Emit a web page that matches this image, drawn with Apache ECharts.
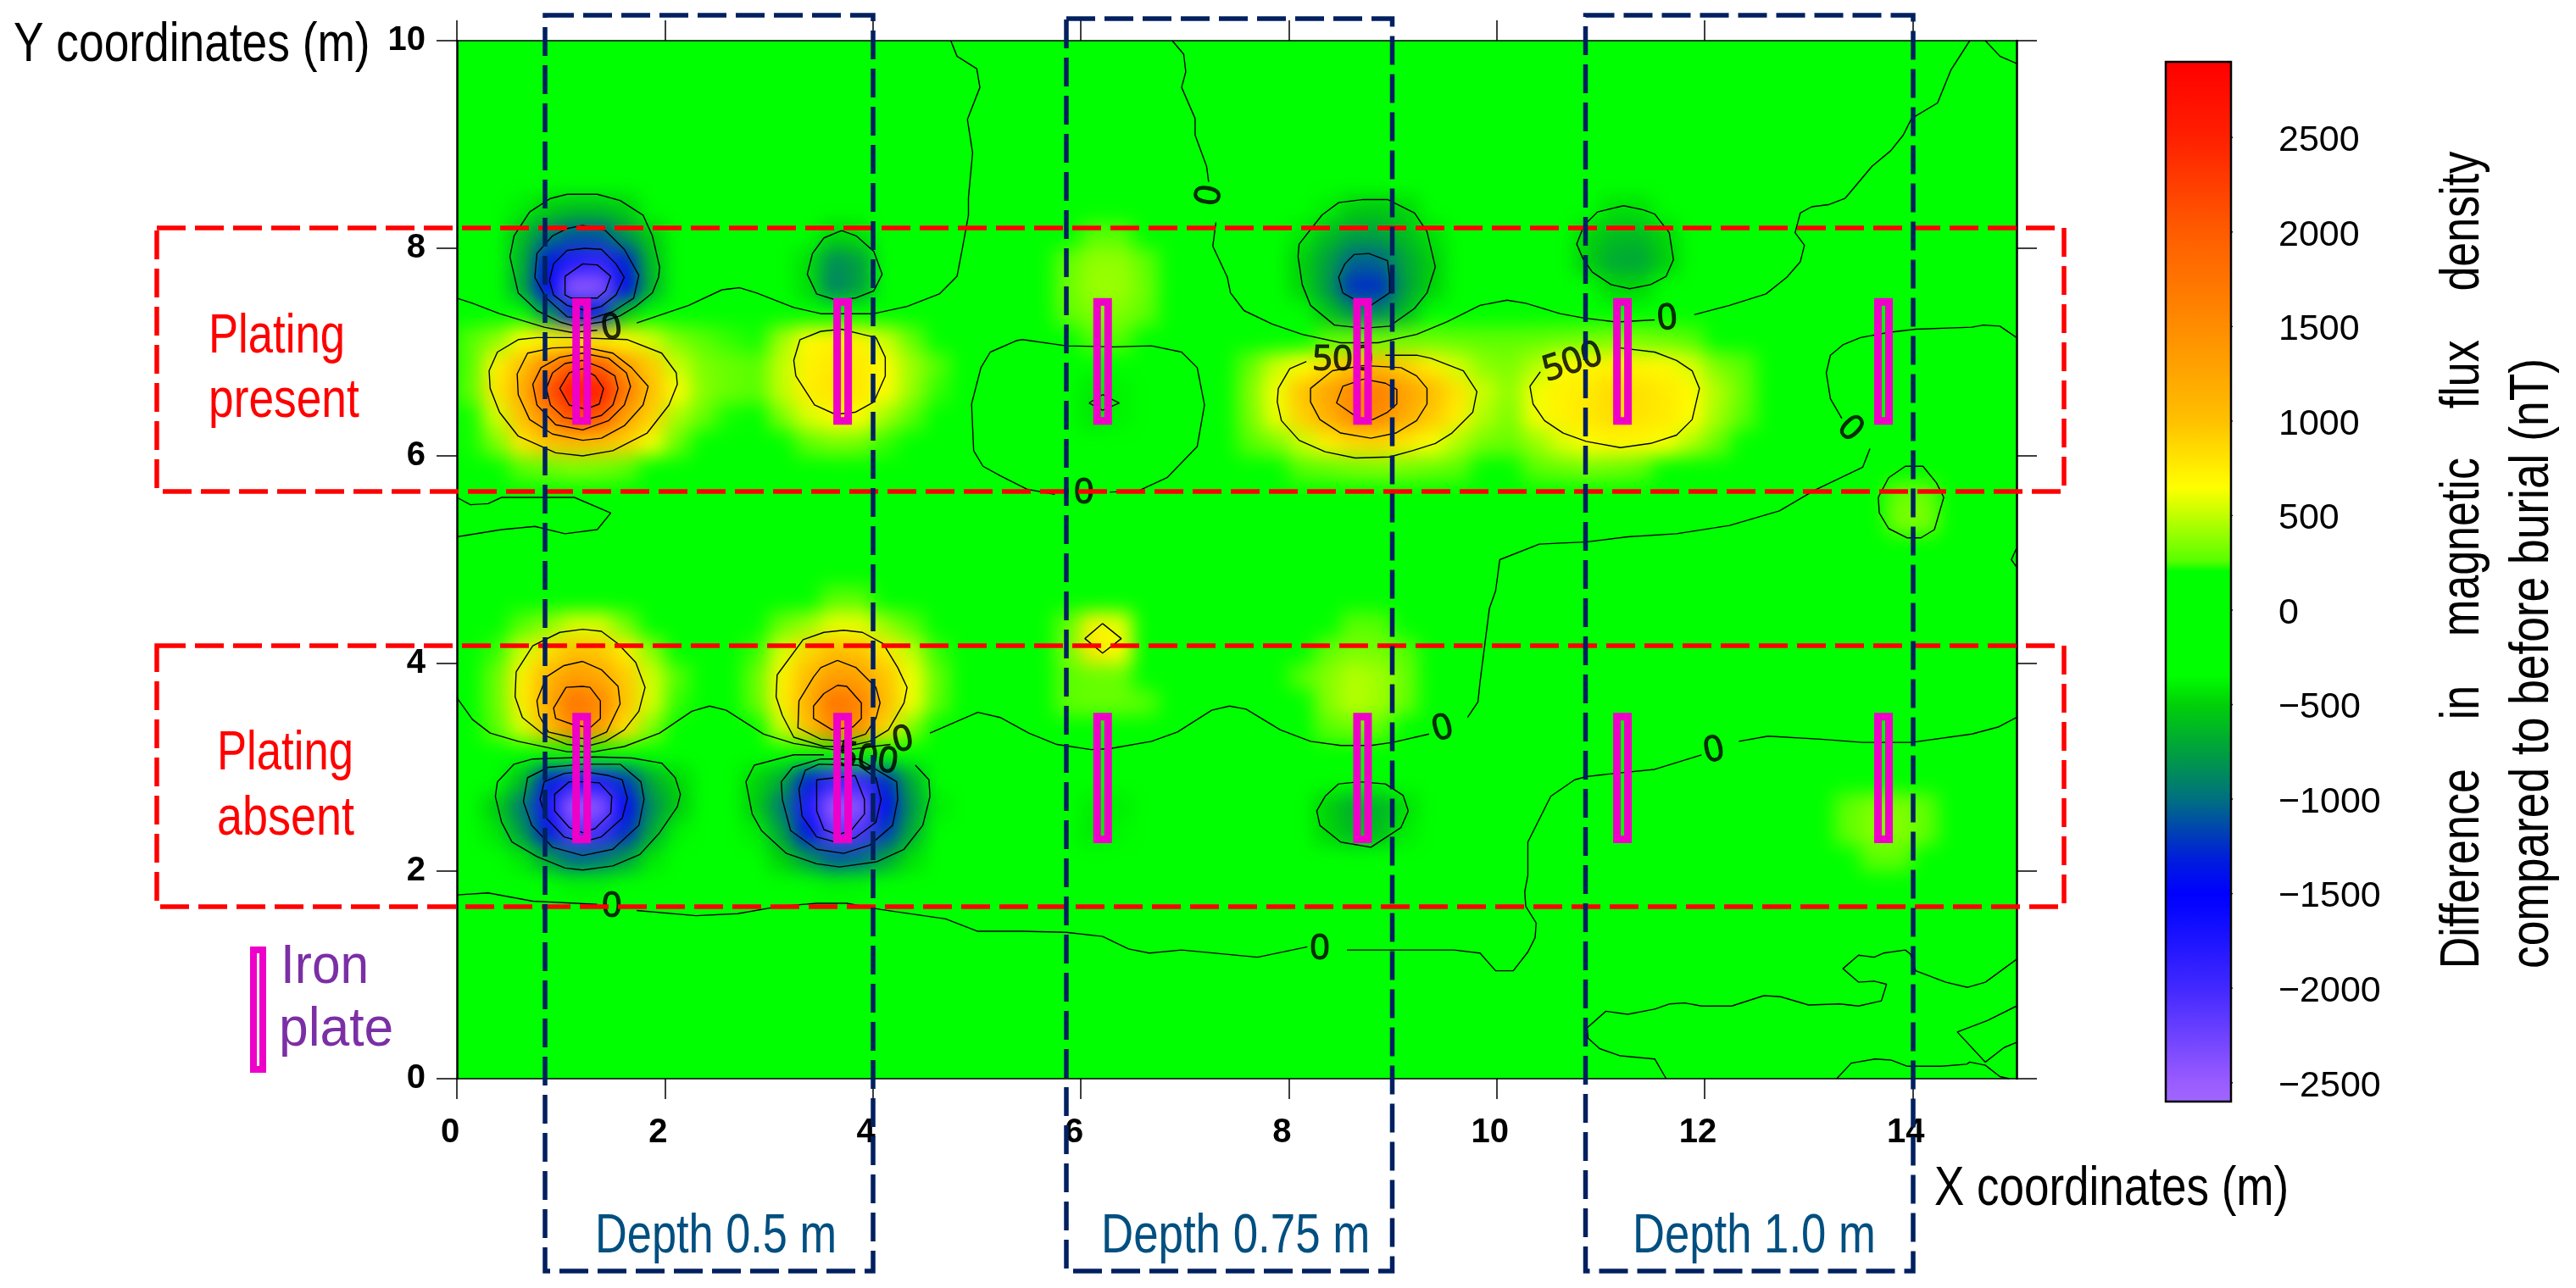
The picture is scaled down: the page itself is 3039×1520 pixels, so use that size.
<!DOCTYPE html>
<html><head><meta charset="utf-8">
<style>html,body{margin:0;padding:0;background:#fff}#c{width:3039px;height:1520px}</style>
<script src="https://cdn.jsdelivr.net/npm/echarts@6/dist/echarts.min.js"></script>
</head><body><div id="c"></div>
<script>
// ---- axis ticks ----
const xTicks=[0,2,4,6,8,10,12,14];
const yTicks=[0,2,4,6,8,10];
const barTicks=[-2500,-2000,-1500,-1000,-500,0,500,1000,1500,2000,2500];
// ---- colour scale stops [value,color] ----
const scaleStops=[[-2600,'#a066ff'],[-2500,'#9a5cff'],[-2000,'#4228ff'],[-1600,'#0808ff'],[-1500,'#0000ff'],[-1300,'#0020d8'],[-1000,'#007080'],[-750,'#00a040'],[-500,'#00d008'],[-350,'#00ff00'],[225,'#00ff00'],[240,'#50ff00'],[500,'#c0ff00'],[650,'#ffff00'],[1000,'#ffc000'],[1500,'#ff8c00'],[2000,'#ff5c00'],[2500,'#ff2000'],[2900,'#ff0000']];
// ---- field values (nT), rows: [y, first x, values every 0.25 m] ----
const anomalyA=[[8.625,0.875,-300,-350,-350,-300],[8.375,0.625,-400,-520,-600,-600,-520,-350],[8.125,0.375,-350,-600,-950,-1100,-1100,-800,-520,-250],[7.875,0.375,-350,-650,-1350,-1800,-1900,-1300,-600,-300],[7.625,0.375,-350,-700,-1500,-2450,-2400,-1450,-650,-300],[7.375,0.625,-350,-800,-1350,-1300,-500,-300]];
const anomalyB=[[8.125,3.625,-480,-450],[7.875,3.375,-450,-850,-750,-350],[7.625,3.375,-450,-900,-750,-350]];
const anomalyC=[[7.125,0.125,250,380,650,700,710,710,680,540,340,260,240,230],[6.875,0.125,250,720,1000,1550,2050,2000,1350,940,520,340,290,250],[6.625,0.125,270,780,1150,2050,2650,2520,1700,1000,660,360,290,230],[6.375,0.125,230,540,1000,1550,2150,2050,1300,900,440,290,230],[6.125,0.125,230,340,780,980,1050,1000,900,620,290],[5.875,0.625,250,290,340,320,260]];
const anomalyD=[[7.125,3.125,420,680,720,710,520,290],[6.875,2.875,260,500,720,780,760,680,420,250],[6.625,2.875,260,500,740,800,780,670,400,240],[6.375,3.125,340,560,680,660,420,260],[6.125,3.375,270,340,320,240]];
const anomalyTopMid=[[8.125,6.125,260,260],[7.875,5.875,280,390,390,280],[7.625,5.875,300,410,410,300],[7.375,5.875,270,350,350,270],[7.125,6.125,250,250]];
const anomalyDiamond=[[6.625,6.125,-420,-380],[6.375,6.125,-420,-380]];
const anomalyE=[[8.375,8.125,-300,-400,-520,-540,-480,-350],[8.125,8.125,-420,-600,-750,-750,-600,-450,-300],[7.875,8.125,-500,-750,-1050,-1050,-720,-520],[7.625,8.125,-480,-780,-1250,-1250,-750,-500],[7.375,8.125,-350,-550,-800,-850,-600,-300]];
const anomalyFH=[[7.125,8.375,250,280,300,300,300,280,270,270,280,300,320,340,330,300,250],[6.875,7.625,280,520,650,820,1000,1050,900,740,540,380,340,460,660,700,720,700,680,560,340,260],[6.625,7.625,340,620,980,1250,1550,1650,1300,1050,800,520,380,620,720,760,860,820,760,680,460,290],[6.375,7.625,320,600,900,1150,1500,1500,1200,950,740,460,340,620,720,780,840,800,760,660,420,260],[6.125,7.625,250,340,520,740,860,880,780,640,460,320,290,400,560,660,700,690,640,460,290],[5.875,8.125,250,280,320,340,320,290,260,0,0,260,290,320,300,260]];
const anomalyG=[[8.375,11.125,-450,-450],[8.125,10.875,-480,-600,-620,-480],[7.875,10.875,-520,-700,-720,-520],[7.625,10.875,-350,-480,-480,-350]];
const anomalyEdge=[[5.625,13.875,300,300],[5.375,13.875,340,340]];
const anomalyI=[[4.375,0.625,250,380,560,560,320],[4.125,0.375,240,540,820,1000,960,740,380],[3.875,0.375,290,740,1100,1350,1250,940,540,250],[3.625,0.375,290,740,1200,1750,1550,980,560,240],[3.375,0.375,250,540,1050,1550,1350,820,340]];
const anomalyJ=[[2.875,0.375,-350,-600,-1300,-1800,-1750,-1200,-700,-480,-300],[2.625,0.375,-520,-950,-1700,-2500,-2400,-1550,-850,-530,-300],[2.375,0.375,-420,-780,-1350,-2150,-2000,-1250,-720,-380],[2.125,0.625,-420,-750,-1050,-1000,-780,-430],[1.875,0.875,-300,-380,-380,-300]];
const anomalyK=[[4.625,3.625,260,260],[4.375,3.125,300,420,600,600,400,250],[4.125,2.875,240,560,860,1020,980,780,500,240],[3.875,2.875,290,720,1050,1350,1300,980,620,280],[3.625,2.875,280,740,1150,1750,1600,1050,620,260],[3.375,3.125,520,1000,1550,1450,860,340]];
const anomalyL=[[2.875,2.875,-480,-700,-1300,-1900,-1950,-1250,-700,-300],[2.625,2.875,-520,-950,-1750,-2500,-2400,-1450,-800,-400],[2.375,2.875,-400,-750,-1400,-2200,-2100,-1200,-700,-300],[2.125,3.125,-500,-800,-1100,-1050,-750,-450],[1.875,3.375,-300,-380,-370,-300]];
const anomalyM=[[4.375,5.875,280,720,600],[4.125,5.875,320,780,680],[3.875,5.875,260,290,290],[3.625,5.875,270,290,290,250]];
const anomalyN=[[4.375,8.625,260,250],[4.125,8.375,280,340,320,250],[3.875,8.125,250,360,470,420,300],[3.625,8.375,360,480,420,290],[3.375,8.375,260,300,270]];
const anomalyO=[[2.625,6.125,-400,-400],[2.375,6.125,-420,-370]];
const anomalyP=[[2.625,8.375,-500,-680,-650,-450],[2.375,8.375,-480,-620,-600,-400]];
const anomalyQ=[[2.625,13.375,270,350,350,270],[2.375,13.375,280,360,360,280],[2.125,13.625,270,270]];
const anomalies=[anomalyA,anomalyB,anomalyC,anomalyD,anomalyTopMid,anomalyDiamond,anomalyE,anomalyFH,anomalyG,anomalyEdge,anomalyI,anomalyJ,anomalyK,anomalyL,anomalyM,anomalyN,anomalyO,anomalyP,anomalyQ];
// ---- contour lines (x m, y m) ----
const loopsA=[
[[1.06,8.52],[1.35,8.52],[1.57,8.46],[1.79,8.32],[1.88,8.12],[1.95,7.82],[1.94,7.72],[1.88,7.57],[1.72,7.44],[1.57,7.35],[1.39,7.29],[1.13,7.25],[0.99,7.29],[0.77,7.40],[0.59,7.57],[0.51,7.92],[0.55,8.12],[0.70,8.35],[0.90,8.48]],
[[1.21,8.22],[1.43,8.17],[1.61,7.99],[1.75,7.74],[1.70,7.52],[1.50,7.39],[1.28,7.32],[1.06,7.34],[0.86,7.52],[0.75,7.72],[0.77,7.95],[0.92,8.12],[1.06,8.19]],
[[1.23,8.0],[1.39,7.99],[1.53,7.85],[1.61,7.72],[1.53,7.55],[1.39,7.44],[1.24,7.40],[1.06,7.45],[0.93,7.55],[0.89,7.69],[0.93,7.85],[1.06,7.98]],
[[1.21,7.85],[1.35,7.84],[1.48,7.73],[1.43,7.59],[1.35,7.52],[1.10,7.52],[1.04,7.55],[1.04,7.73]]];
const loopsB=[[[3.70,8.17],[3.84,8.12],[4.01,7.97],[4.09,7.75],[4.01,7.59],[3.83,7.52],[3.65,7.50],[3.46,7.56],[3.37,7.75],[3.42,7.95],[3.53,8.10]]];
const loopsC=[
[[0.77,7.14],[1.13,7.14],[1.64,7.12],[1.97,6.99],[2.11,6.80],[2.12,6.69],[2.04,6.49],[1.83,6.22],[1.50,6.05],[1.21,6.0],[0.95,6.03],[0.59,6.19],[0.41,6.42],[0.32,6.65],[0.31,6.82],[0.39,7.0],[0.59,7.12]],
[[1.21,7.05],[1.5,6.99],[1.68,6.85],[1.84,6.67],[1.79,6.49],[1.61,6.29],[1.39,6.17],[1.21,6.15],[0.92,6.21],[0.70,6.35],[0.59,6.59],[0.58,6.79],[0.68,6.99],[0.92,7.04]],
[[1.21,6.99],[1.46,6.94],[1.63,6.80],[1.67,6.67],[1.61,6.49],[1.46,6.34],[1.21,6.25],[0.95,6.30],[0.77,6.49],[0.73,6.69],[0.81,6.85],[0.99,6.95]],
[[1.21,6.92],[1.39,6.85],[1.52,6.77],[1.55,6.65],[1.50,6.49],[1.39,6.39],[1.21,6.34],[1.03,6.37],[0.90,6.49],[0.86,6.65],[0.92,6.80],[1.04,6.89]],
[[1.21,6.84],[1.33,6.77],[1.41,6.65],[1.37,6.50],[1.24,6.45],[1.08,6.49],[0.99,6.65],[1.08,6.80]]];
const loopsD=[[[3.70,7.22],[3.50,7.20],[3.30,7.12],[3.24,6.92],[3.26,6.77],[3.44,6.49],[3.64,6.40],[3.83,6.42],[4.01,6.52],[4.12,6.77],[4.12,6.95],[4.03,7.14],[3.90,7.17]]];
const loopsE=[
[[8.72,8.47],[8.95,8.47],[9.21,8.34],[9.33,8.16],[9.41,7.82],[9.33,7.57],[9.21,7.42],[8.97,7.25],[8.72,7.23],[8.44,7.26],[8.21,7.45],[8.13,7.65],[8.09,7.92],[8.10,8.04],[8.32,8.32],[8.48,8.44]],
[[8.77,7.95],[8.95,7.88],[8.97,7.72],[8.97,7.57],[8.79,7.45],[8.61,7.52],[8.52,7.57],[8.48,7.72],[8.54,7.85],[8.63,7.94]]];
const loopsF=[
[[9.08,6.85],[9.23,6.77],[9.33,6.65],[9.33,6.50],[9.23,6.34],[9.03,6.22],[8.79,6.17],[8.50,6.22],[8.30,6.35],[8.21,6.52],[8.21,6.65],[8.42,6.82],[8.72,6.87]],
[[8.72,6.74],[8.93,6.70],[9.04,6.64],[9.04,6.50],[8.95,6.42],[8.81,6.35],[8.66,6.37],[8.46,6.51],[8.52,6.67]]];
const loopsG=[[[11.22,8.41],[11.41,8.37],[11.52,8.33],[11.66,8.15],[11.70,7.89],[11.63,7.73],[11.48,7.65],[11.28,7.61],[11.10,7.65],[10.92,7.77],[10.83,7.90],[10.77,8.04],[10.84,8.22],[10.97,8.35]]];
const loopsI=[
[[1.21,4.33],[1.39,4.31],[1.55,4.19],[1.72,4.01],[1.81,3.77],[1.75,3.54],[1.61,3.36],[1.43,3.25],[1.24,3.2],[1.06,3.22],[0.84,3.31],[0.63,3.48],[0.56,3.68],[0.57,3.92],[0.73,4.17],[0.99,4.30]],
[[1.21,4.02],[1.39,3.94],[1.55,3.78],[1.57,3.61],[1.44,3.34],[1.28,3.27],[1.10,3.29],[0.88,3.34],[0.79,3.50],[0.77,3.64],[0.86,3.87],[1.03,3.98]],
[[1.21,3.78],[1.28,3.77],[1.38,3.64],[1.38,3.47],[1.28,3.38],[1.12,3.41],[0.95,3.47],[0.93,3.57],[1.05,3.77]]];
const loopsJ=[
[[0.73,3.08],[0.55,3.03],[0.39,2.86],[0.37,2.72],[0.43,2.47],[0.53,2.28],[0.77,2.14],[1.04,2.03],[1.21,2.01],[1.50,2.05],[1.76,2.16],[1.95,2.37],[2.12,2.62],[2.15,2.74],[2.10,2.90],[1.97,3.04],[1.68,3.09],[1.32,3.10]],
[[1.21,3.03],[1.57,3.03],[1.77,2.86],[1.80,2.69],[1.75,2.44],[1.50,2.21],[1.21,2.15],[0.92,2.23],[0.72,2.44],[0.64,2.67],[0.68,2.90],[0.88,3.0]],
[[1.21,2.96],[1.46,2.92],[1.59,2.88],[1.64,2.70],[1.59,2.51],[1.39,2.33],[1.21,2.28],[1.03,2.33],[0.86,2.51],[0.80,2.69],[0.84,2.86],[1.03,2.94]],
[[1.21,2.86],[1.37,2.85],[1.49,2.72],[1.48,2.56],[1.33,2.41],[1.21,2.37],[1.08,2.42],[0.94,2.58],[0.94,2.74],[1.08,2.86]]];
const loopsK=[
[[3.72,4.32],[3.90,4.30],[4.10,4.19],[4.24,3.96],[4.33,3.77],[4.30,3.62],[4.15,3.36],[3.97,3.25],[3.75,3.2],[3.53,3.2],[3.24,3.29],[3.13,3.50],[3.07,3.68],[3.08,3.89],[3.33,4.23],[3.53,4.30]],
[[3.66,4.03],[3.84,3.96],[4.03,3.77],[4.07,3.62],[4.03,3.47],[3.93,3.32],[3.72,3.25],[3.50,3.27],[3.28,3.38],[3.29,3.64],[3.43,3.87],[3.50,3.96]],
[[3.66,3.79],[3.75,3.78],[3.89,3.62],[3.89,3.47],[3.81,3.39],[3.61,3.36],[3.43,3.47],[3.43,3.59],[3.53,3.71]]];
const loopsL=[
[[3.50,3.08],[3.86,3.08],[4.23,2.86],[4.24,2.69],[4.19,2.44],[3.97,2.25],[3.72,2.17],[3.46,2.21],[3.21,2.39],[3.13,2.69],[3.12,2.86],[3.23,3.0]],
[[3.48,3.03],[3.86,3.02],[4.03,2.9],[4.08,2.69],[4.03,2.47],[3.83,2.32],[3.64,2.28],[3.46,2.33],[3.32,2.53],[3.29,2.79],[3.35,2.97]],
[[3.46,2.88],[3.83,2.92],[3.92,2.69],[3.92,2.55],[3.79,2.39],[3.66,2.35],[3.53,2.40],[3.46,2.58]]];
const loopsMisc=[
[[6.08,6.51],[6.21,6.59],[6.37,6.51],[6.21,6.44]],
[[6.21,4.385],[6.39,4.24],[6.21,4.10],[6.04,4.24]],
[[8.48,2.84],[8.68,2.86],[8.93,2.84],[9.10,2.73],[9.15,2.58],[9.08,2.42],[8.79,2.23],[8.50,2.28],[8.30,2.44],[8.27,2.58],[8.35,2.72]],
[[14.03,5.90],[14.10,5.90],[14.23,5.74],[14.30,5.60],[14.21,5.29],[14.08,5.21],[13.95,5.21],[13.77,5.30],[13.68,5.45],[13.67,5.60],[13.77,5.79],[13.93,5.90]]];
const openLines=[
[[0,7.52],[0.15,7.47],[0.41,7.37],[0.84,7.24],[1.10,7.19],[1.35,7.21]],
[[1.73,7.28],[2.23,7.45],[2.55,7.60],[2.72,7.62],[2.88,7.57],[3.24,7.43],[3.50,7.37],[4.01,7.37],[4.33,7.44],[4.64,7.56],[4.81,7.73],[4.86,7.99],[4.92,8.32],[4.92,8.49],[4.96,8.92],[4.91,9.24],[5.03,9.55],[5.00,9.73],[4.81,9.85],[4.75,10]],
[[5.75,5.63],[5.48,5.68],[5.225,5.81],[5.06,5.90],[4.97,6.05],[4.95,6.50],[5.04,6.85],[5.13,7.0],[5.38,7.11],[5.44,7.12],[5.86,7.06],[6.32,7.05],[6.68,7.06],[6.97,7.0],[7.12,6.85],[7.19,6.49],[7.12,6.09],[6.83,5.79],[6.57,5.67],[6.28,5.65]],
[[6.88,10],[6.99,9.87],[7.01,9.70],[6.97,9.55],[7.10,9.25],[7.10,9.09],[7.21,8.79],[7.23,8.64]],
[[7.30,8.25],[7.27,8.02],[7.41,7.72],[7.44,7.57],[7.57,7.40],[7.84,7.27],[8.13,7.17],[8.50,7.09],[8.86,7.09],[9.23,7.17],[9.52,7.29],[9.84,7.45],[10.10,7.50],[10.28,7.47],[10.61,7.37],[10.83,7.33],[11.15,7.29],[11.52,7.31]],
[[11.90,7.36],[12.24,7.45],[12.59,7.56],[12.79,7.72],[12.92,7.87],[12.96,8.03],[12.87,8.15],[12.92,8.34],[13.03,8.40],[13.19,8.42],[13.35,8.48],[13.61,8.79],[13.79,8.94],[13.91,9.09],[13.99,9.25],[14.24,9.40],[14.37,9.72],[14.55,10]],
[[14.70,10],[14.84,9.85],[15,9.78]],
[[8.17,6.91],[8.01,6.84],[7.90,6.65],[7.89,6.52],[7.93,6.34],[8.10,6.15],[8.35,6.04],[8.64,5.98],[8.97,5.99],[9.19,6.05],[9.41,6.12],[9.57,6.22],[9.77,6.42],[9.81,6.62],[9.68,6.82],[9.37,6.94],[9.23,6.97],[8.93,6.97]],
[[10.42,6.81],[10.32,6.67],[10.35,6.50],[10.46,6.34],[10.64,6.22],[10.86,6.14],[11.19,6.08],[11.48,6.12],[11.73,6.20],[11.88,6.35],[11.95,6.65],[11.88,6.82],[11.73,6.92],[11.52,7.0],[11.19,7.04]],
[[13.32,6.36],[13.21,6.55],[13.17,6.80],[13.21,6.97],[13.33,7.07],[13.50,7.14],[13.77,7.19],[14.03,7.22],[14.57,7.24],[14.68,7.26],[14.84,7.25],[15,7.14]],
[[13.59,6.07],[13.52,5.89],[13.35,5.81],[13.06,5.67],[12.72,5.47],[12.24,5.33],[11.73,5.25],[11.26,5.22],[10.86,5.17],[10.62,5.16],[10.41,5.15],[10.03,5.0],[9.99,4.70],[9.93,4.53],[9.84,3.82],[9.82,3.63],[9.72,3.48]],
[[9.35,3.32],[9.0,3.24],[8.79,3.21],[8.50,3.21],[8.21,3.25],[7.92,3.36],[7.59,3.56],[7.43,3.59],[7.26,3.55],[6.93,3.34],[6.68,3.25],[6.28,3.18],[6.10,3.17],[5.77,3.22],[5.50,3.33],[5.225,3.48],[5.01,3.53],[4.55,3.33]],
[[4.17,3.22],[3.68,3.16],[3.24,3.23],[2.95,3.32],[2.59,3.55],[2.43,3.59],[2.26,3.54],[1.95,3.33],[1.61,3.2],[1.32,3.15],[1.06,3.15],[0.59,3.25],[0.32,3.33],[0.15,3.46],[0,3.67]],
[[3.53,3.12],[3.24,3.12],[2.86,3.02],[2.78,2.86],[2.84,2.55],[2.93,2.39],[3.17,2.17],[3.46,2.07],[3.68,2.04],[4.04,2.09],[4.30,2.21],[4.48,2.44],[4.55,2.72],[4.54,2.88],[4.41,3.02]],
[[0,1.77],[0.30,1.79],[0.73,1.71],[1.35,1.68]],
[[1.73,1.62],[2.30,1.57],[2.70,1.59],[3.10,1.66],[3.46,1.69],[3.75,1.69],[4.08,1.63],[4.70,1.54],[5.01,1.42],[5.44,1.42],[5.86,1.41],[6.21,1.37],[6.46,1.25],[6.66,1.21],[6.97,1.24],[7.70,1.17],[8.18,1.27]],
[[8.56,1.24],[8.97,1.24],[9.59,1.24],[9.84,1.21],[9.99,1.04],[10.16,1.04],[10.30,1.22],[10.37,1.36],[10.38,1.50],[10.28,1.66],[10.27,1.80],[10.30,1.96],[10.30,2.28],[10.52,2.72],[10.75,2.88],[10.86,2.91],[11.12,2.94],[11.52,2.98],[11.97,3.12]],
[[12.33,3.25],[12.61,3.30],[13.12,3.27],[13.52,3.24],[13.99,3.24],[14.57,3.32],[14.83,3.39],[15,3.48]],
[[11.63,0],[11.52,0.19],[11.19,0.22],[10.99,0.29],[10.88,0.39],[10.87,0.49],[11.05,0.65],[11.26,0.62],[11.52,0.67],[11.66,0.72],[11.81,0.73],[11.97,0.70],[12.26,0.70],[12.57,0.80],[12.73,0.79],[13.0,0.71],[13.30,0.72],[13.48,0.70],[13.70,0.75],[13.75,0.91],[13.63,0.94],[13.48,0.93],[13.33,1.06],[13.48,1.19],[13.63,1.17],[13.72,1.21],[13.93,1.24],[13.98,1.20],[14.03,1.04],[14.32,0.93],[14.53,0.88],[14.70,0.93],[15,1.15]],
[[15,0.70],[14.72,0.56],[14.43,0.45],[14.70,0.16],[14.88,0.30],[15,0.35]],
[[13.27,0],[13.41,0.15],[13.64,0.19],[13.79,0.18],[13.95,0.12],[14.28,0.12],[14.52,0.14],[14.55,0.16],[14.70,0.13],[14.84,0.02],[14.93,0]],
[[15,5.11],[14.95,5.0],[15,4.93]],
[[0,5.60],[0.13,5.53],[0.30,5.54],[0.43,5.60],[1.13,5.60],[1.48,5.45],[1.35,5.29],[1.04,5.25],[0.75,5.32],[0.43,5.29],[0,5.22]]];
// contour labels: x, y, text, rotation (deg)
const contourLabels=[[1.49,7.23,'0',10],[7.24,8.51,'0',80],[6.03,5.64,'0',0],[8.52,6.92,'500',0],[10.73,6.90,'500',18],[11.64,7.32,'0',5],[13.40,6.26,'0',-45],[4.29,3.26,'0',12],[3.95,3.08,'500',-8],[1.49,1.66,'0',0],[8.30,1.25,'0',0],[9.48,3.37,'0',15],[12.09,3.16,'0',12]];
// iron plates: centre x, bottom y, top y
const plates=[[1.20,6.30,7.52],[3.71,6.30,7.52],[6.21,6.30,7.52],[8.71,6.30,7.52],[11.21,6.30,7.52],[13.72,6.30,7.52],[1.20,2.27,3.525],[3.71,2.27,3.525],[6.21,2.27,3.525],[8.71,2.27,3.525],[11.21,2.27,3.525],[13.72,2.27,3.525]];

// ---- build ----
const nx=60,ny=40,cell=0.25;
const field=[];for(let j=0;j<ny;j++){field.push(new Array(nx).fill(0));}
anomalies.forEach(p=>p.forEach(r=>{const j=Math.round((r[0]-cell/2)/cell),i0=Math.round((r[1]-cell/2)/cell);
  for(let k=2;k<r.length;k++){if(r[k]!==0)field[j][i0+k-2]=r[k];}}));
const heat=[];for(let j=0;j<ny;j++)for(let i=0;i<nx;i++)heat.push([i,j,field[j][i]]);
function hex(c){return [1,3,5].map(k=>parseInt(c.substr(k,2),16));}
const scaleColors=[];for(let v=-2600;v<=2900;v+=25){let a=scaleStops[0],b=scaleStops[1];
  for(let s=0;s<scaleStops.length-1;s++){if(v>=scaleStops[s][0]&&v<=scaleStops[s+1][0]){a=scaleStops[s];b=scaleStops[s+1];break;}}
  const t=(v-a[0])/(b[0]-a[0]),ca=hex(a[1]),cb=hex(b[1]);
  scaleColors.push('rgb('+ca.map((q,m)=>Math.round(q+(cb[m]-q)*t)).join(',')+')');}
const loop=a=>a.concat([a[0]]);
const allLines=[].concat(loopsA,loopsB,loopsC,loopsD,loopsE,loopsF,loopsG,loopsI,loopsJ,loopsK,loopsL,loopsMisc).map(loop).concat(openLines);
const lineSeries=allLines.map(d=>({type:'line',data:d,xAxisIndex:0,yAxisIndex:0,symbol:'none',silent:true,z:3,animation:false,lineStyle:{color:'#000',width:1.4}}));
// colour-bar tick marks, drawn just outside the bar on its own hidden axes
const barTickSeries=barTicks.map(v=>({type:'line',data:[[1,v],[1.234,v]],xAxisIndex:4,yAxisIndex:4,clip:false,symbol:'none',silent:true,z:3,animation:false,lineStyle:{color:'#000',width:1.4}}));

const FONT='"Liberation Sans"';
const tickLab={fontFamily:FONT,fontWeight:'bold',fontSize:40,color:'#000'};
const axLine=w=>({show:true,onZero:false,lineStyle:{color:'#000',width:w}});
const tick=(vals)=>({show:true,length:24,customValues:vals,lineStyle:{color:'#000',width:1.5}});
const RED='#ff0000',NAVY='#002060',MAG='#ee00c8',DEPTH='#004f80';
function dashRect(x,y,w,h,color){return {type:'rect',z:50,silent:true,shape:{x,y,width:w,height:h},style:{fill:'none',stroke:color,lineWidth:5.5,lineDash:[34,11]}};}
function label(text,x,y,size,color,sx){return {type:'text',z:60,silent:true,x,y,scaleX:sx,style:{text,font:size+'px '+FONT,fill:color,align:'left',verticalAlign:'middle'}};}
function vlabel(text,x,y,sx){return {type:'text',z:60,silent:true,x,y,rotation:Math.PI/2,scaleX:sx,style:{text,font:'65px '+FONT,fill:'#000',align:'center',verticalAlign:'middle'}};}
const NB='\u00a0\u00a0\u00a0\u00a0';

const chart=echarts.init(document.getElementById('c'),null,{renderer:'canvas'});
chart.setOption({
  animation:false,
  grid:[{left:539,top:48,width:1840,height:1225,containLabel:false},{left:2555,top:77,width:77,height:1227},{left:2555,top:73,width:77,height:1227}],
  xAxis:[
   {type:'value',gridIndex:0,position:'bottom',min:0,max:15,interval:1,axisLine:axLine(1.5),axisTick:tick(xTicks),splitLine:{show:false},
    axisLabel:Object.assign({customValues:xTicks,margin:44,padding:[0,16,0,0]},tickLab)},
   {type:'value',gridIndex:0,position:'top',min:0,max:15,interval:1,axisLine:axLine(1.5),axisTick:tick(xTicks),splitLine:{show:false},axisLabel:{show:false}},
   {type:'category',gridIndex:0,show:false,data:Array.from({length:nx},(_, i)=>i)},
   {type:'value',gridIndex:1,show:false,min:0,max:1},
   {type:'value',gridIndex:2,show:false,min:0,max:1}
  ],
  yAxis:[
   {type:'value',gridIndex:0,position:'left',min:0,max:10,interval:2,axisLine:axLine(2.5),axisTick:tick(yTicks),splitLine:{show:false},
    axisLabel:Object.assign({customValues:yTicks,margin:37},tickLab)},
   {type:'value',gridIndex:0,position:'right',min:0,max:10,interval:2,axisLine:axLine(2.5),axisTick:tick(yTicks),splitLine:{show:false},axisLabel:{show:false}},
   {type:'category',gridIndex:0,show:false,data:Array.from({length:ny},(_, j)=>j)},
   {type:'value',gridIndex:1,position:'right',min:-2600,max:2900,interval:100,axisLine:{show:false},splitLine:{show:false},axisTick:{show:false},
    axisLabel:{customValues:barTicks,margin:56,align:'left',fontFamily:FONT,fontSize:43,color:'#000',formatter:v=>v<0?'\u2212'+Math.abs(v):String(v)}},
   {type:'value',gridIndex:2,show:false,min:-2600,max:2900}
  ],
  visualMap:[{type:'continuous',seriesIndex:0,min:-2600,max:2900,show:true,calculable:false,hoverLink:false,left:2555,top:73,itemWidth:77,itemHeight:1227,padding:0,text:null,showLabel:false,inRange:{color:scaleColors}}],
  series:[
   {type:'heatmap',data:heat,xAxisIndex:2,yAxisIndex:2,zlevel:-1,silent:true,progressive:0,animation:false,itemStyle:{borderWidth:0}},
   ...lineSeries,
   ...barTickSeries,
   {type:'scatter',xAxisIndex:0,yAxisIndex:0,z:4,silent:true,symbolSize:1,itemStyle:{color:'transparent'},animation:false,
    data:contourLabels.map(l=>({value:[l[0],l[1]],label:{show:true,position:'inside',formatter:l[2],rotate:l[3],fontFamily:'"Noto Sans"',fontSize:42,color:'#000',textBorderColor:'#000',textBorderWidth:1}}))},
   {type:'custom',xAxisIndex:0,yAxisIndex:0,z:5,silent:true,animation:false,clip:false,data:plates,
    renderItem:(p,api)=>{const a=api.coord([api.value(0),api.value(1)]),b=api.coord([api.value(0),api.value(2)]);
      return {type:'rect',shape:{x:a[0]-6.5,y:b[1]+4.5,width:13,height:a[1]-b[1]-9},style:{fill:'none',stroke:MAG,lineWidth:9}};}}
  ],
  graphic:{elements:[
    {type:'rect',z:40,silent:true,shape:{x:2555,y:73,width:77,height:1227},style:{fill:'none',stroke:'#000',lineWidth:2.5}},
    dashRect(185,269,2250,311,RED),dashRect(185,762,2250,308,RED),
    dashRect(643,18,387,1482,NAVY),dashRect(1258,22,384.5,1478,NAVY),dashRect(1870.5,18,386.5,1482,NAVY),
    {type:'rect',z:50,silent:true,shape:{x:299,y:1121,width:11,height:141},style:{fill:'#fff',stroke:MAG,lineWidth:8}},
    label('Y coordinates (m)',16,54,65,'#000',.82),
    label('X coordinates (m)',2282,1404,65,'#000',.815),
    label('Plating',246,398,65,RED,.81),label('present',246,474,65,RED,.82),
    label('Plating',256,890,65,RED,.81),label('absent',256,967,65,RED,.83),
    label('Iron',331,1142,65,'#7b2fa5',.93),label('plate',329,1216,65,'#7b2fa5',.96),
    label('Depth 0.5 m',702,1460,65,DEPTH,.805),label('Depth 0.75 m',1299,1460,65,DEPTH,.813),label('Depth 1.0 m',1926,1460,65,DEPTH,.81),
    vlabel('Difference'+NB+'in'+NB+'magnetic'+NB+'flux'+NB+'density',2906,661,.80),
    vlabel('compared to before burial (nT)',2988,783,.82)
  ]}
});
// soften the coarse cells of the read-off field: blur only its own canvas layer, clipped to the plot
const layer=chart.getZr().painter.getLayer(-1);
if(layer&&layer.dom){layer.dom.style.background='#00ff00';layer.dom.style.filter='blur(11px)';layer.dom.style.clipPath='inset(48px 660px 247px 539px)';}
</script></body></html>
